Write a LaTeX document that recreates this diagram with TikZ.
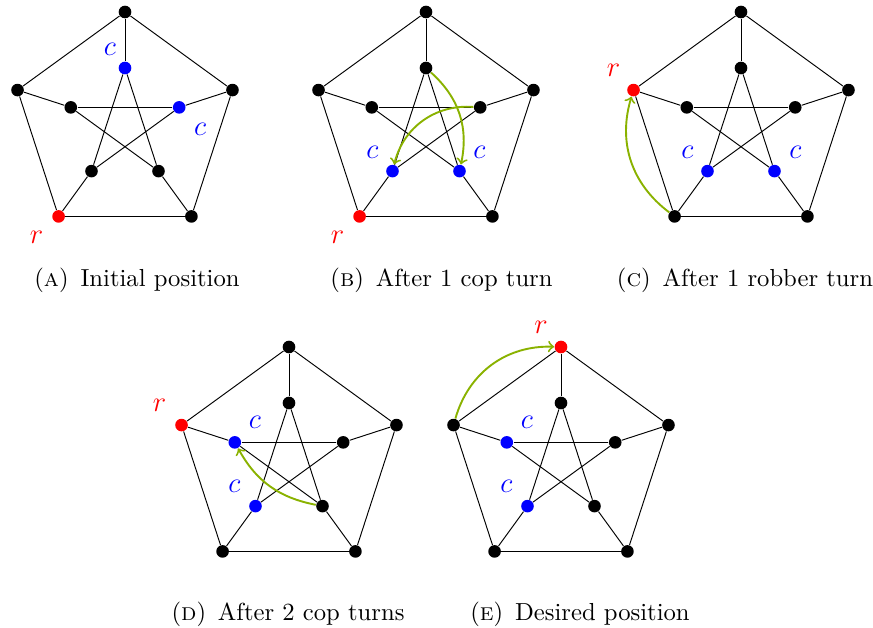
\documentclass[tikz,border=0pt]{standalone}
\usetikzlibrary{calc}
\definecolor{arrgreen}{RGB}{138,178,0}
\newcommand\petersengraph[4]{% prefix, centre, outer colours, inner colours
  \foreach \c [count=\k] in {#3} {\node[vertex,fill=\c] (#1o\k) at ($(#2)+({18+72*\k}:113)$) {};}
  \foreach \c [count=\k] in {#4} {\node[vertex,fill=\c] (#1i\k) at ($(#2)+({18+72*\k}:57)$) {};}
  \foreach \k in {1,...,5}{
    \pgfmathtruncatemacro\nxt{mod(\k,5)+1}
    \pgfmathtruncatemacro\skp{mod(\k+1,5)+1}
    \draw[edge] (#1o\k) -- (#1o\nxt);
    \draw[edge] (#1o\k) -- (#1i\k);
    \draw[edge] (#1i\k) -- (#1i\skp);
  }
}
\begin{document}
\begin{tikzpicture}[x=0.42pt,y=0.42pt,
  vertex/.style={circle,inner sep=0pt,minimum size=5.3pt,draw=none},
  edge/.style={line width=0.4pt,black},
  mv/.style={->,thick,arrgreen},
  cop/.style={inner sep=0pt,text=blue,font=\large},
  rob/.style={inner sep=0pt,text=red,font=\large},
  captxt/.style={anchor=base,inner sep=0pt,font=\fontsize{10.35pt}{12.5pt}\selectfont}]
\useasboundingbox (0,0) rectangle (873,-628);

\petersengraph{A}{125,-125}{black,black,red,black,black}{blue,black,black,black,blue}
\petersengraph{B}{426,-125}{black,black,red,black,black}{black,black,blue,blue,black}
\petersengraph{C}{741,-125}{black,red,black,black,black}{black,black,blue,blue,black}
\petersengraph{D}{289,-460}{black,red,black,black,black}{black,blue,blue,black,black}
\petersengraph{E}{561,-460}{red,black,black,black,black}{black,blue,blue,black,black}

% labels
\node[cop] (Ac1) at ($(Ai1)+(-15,19)$) {$c$};
\node[cop] (Ac2) at ($(Ai5)+(21,-22)$) {$c$};
\node[rob] (Ar)  at ($(Ao3)+(-22,-21)$) {$r$};

\node[cop] (Bc1) at ($(Bi3)+(-20,19)$) {$c$};
\node[cop] (Bc2) at ($(Bi4)+(20,19)$) {$c$};
\node[rob] (Br)  at ($(Bo3)+(-22,-21)$) {$r$};

\node[cop] (Cc1) at ($(Ci3)+(-20,19)$) {$c$};
\node[cop] (Cc2) at ($(Ci4)+(21,19)$) {$c$};
\node[rob] (Cr)  at ($(Co2)+(-20,20)$) {$r$};

\node[cop] (Dc1) at ($(Di2)+(20,20)$) {$c$};
\node[cop] (Dc2) at ($(Di3)+(-21,20)$) {$c$};
\node[rob] (Dr)  at ($(Do2)+(-22,20)$) {$r$};

\node[cop] (Ec1) at ($(Ei2)+(20,20)$) {$c$};
\node[cop] (Ec2) at ($(Ei3)+(-21,20)$) {$c$};
\node[rob] (Er)  at ($(Eo1)+(-20,20)$) {$r$};

% moves
\draw[mv] (Bi1) to[bend left=30] (Bi4);
\draw[mv] (Bi5) to[bend right=40] (Bi3);
\draw[mv] (Co3) to[bend left=35] (Co2);
\draw[mv] (Di4) to[bend left=25] (Di2);
\draw[mv] (Eo2) to[bend left=38] (Eo1);

% captions
\node[captxt] (capA) at (137,-287) {(\textsc{a})\hspace{5pt}Initial position};
\node[captxt] (capB) at (441.5,-287) {(\textsc{b})\hspace{5pt}After 1 cop turn};
\node[captxt] (capC) at (745,-287) {(\textsc{c})\hspace{5pt}After 1 robber turn};
\node[captxt] (capD) at (288,-621) {(\textsc{d})\hspace{5pt}After 2 cop turns};
\node[captxt] (capE) at (580,-621) {(\textsc{e})\hspace{5pt}Desired position};
\end{tikzpicture}
\end{document}
